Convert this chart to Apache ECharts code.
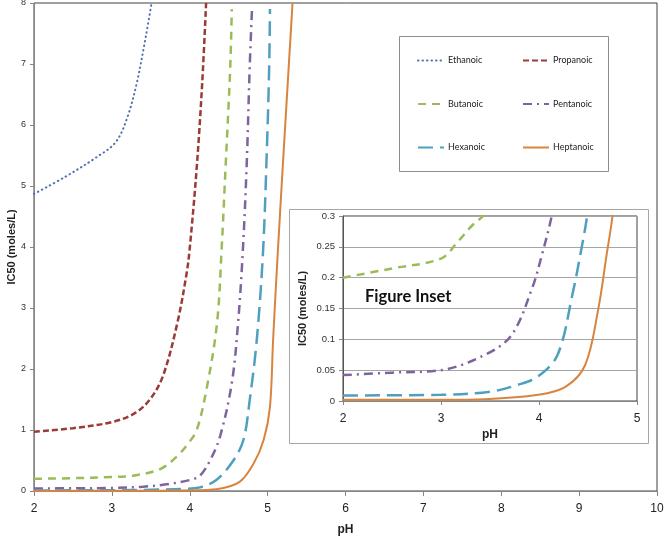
<!DOCTYPE html>
<html>
<head>
<meta charset="utf-8">
<script src="https://cdn.jsdelivr.net/npm/echarts@6/dist/echarts.min.js"></script>
<style>
  html, body { margin: 0; padding: 0; background: #fff; }
  #chart { width: 664px; height: 537px; }
</style>
</head>
<body>
<div id="chart"></div>
<script>
// [pH, IC50] pairs
var ethanoic  = [[2,4.87],[2.4,5.15],[2.8,5.47],[3.05,5.72],[3.2,6.13],[3.32,6.69],[3.42,7.34],[3.51,8]];
var propanoic = [[2,0.97],[2.5,1.03],[3,1.13],[3.3,1.28],[3.5,1.52],[3.66,1.9],[3.84,2.75],[3.96,3.57],[4.0,3.98],[4.09,5.31],[4.16,6.69],[4.21,8]];
var butanoic  = [[2,0.2],[2.5,0.21],[3,0.23],[3.27,0.25],[3.62,0.36],[3.83,0.56],[3.98,0.78],[4.09,1.0],[4.22,1.7],[4.35,2.75],[4.41,3.98],[4.46,5.31],[4.52,6.95],[4.54,7.9]];
var pentanoic = [[2,0.04],[2.5,0.045],[3,0.05],[3.4,0.07],[3.7,0.11],[4,0.18],[4.13,0.25],[4.26,0.5],[4.39,0.9],[4.54,1.77],[4.62,2.75],[4.68,3.9],[4.73,5.31],[4.77,6.95],[4.8,7.92]];
var hexanoic  = [[2,0.01],[3,0.012],[3.5,0.02],[3.9,0.035],[4.13,0.06],[4.34,0.18],[4.56,0.5],[4.69,0.84],[4.77,1.49],[4.86,2.47],[4.94,3.9],[4.99,5.59],[5.02,6.95],[5.03,7.9]];
var heptanoic = [[2,0.002],[3,0.003],[3.5,0.004],[4,0.012],[4.34,0.03],[4.64,0.15],[4.82,0.45],[4.95,0.84],[5.03,1.38],[5.07,2.47],[5.13,3.9],[5.22,5.87],[5.32,8]];

// values
var insetButanoic  = [[2,0.2],[2.5,0.215],[3,0.231],[3.17,0.258],[3.32,0.285],[3.43,0.3],[3.5,0.315]];
var insetPentanoic = [[2,0.042],[2.5,0.046],[3,0.05],[3.45,0.075],[3.72,0.107],[3.93,0.183],[4.03,0.237],[4.13,0.3],[4.2,0.36]];
var insetHexanoic  = [[2,0.009],[3,0.01],[3.5,0.015],[3.78,0.026],[3.99,0.04],[4.19,0.075],[4.34,0.172],[4.44,0.253],[4.49,0.3],[4.55,0.4]];
var insetHeptanoic = [[2,0.002],[3,0.002],[3.45,0.003],[3.99,0.01],[4.27,0.023],[4.47,0.058],[4.6,0.145],[4.69,0.237],[4.75,0.3],[4.8,0.38]];

var legendLeft  = ['Ethanoic', 'Butanoic', 'Hexanoic'];
var legendRight = ['Propanoic', 'Pentanoic', 'Heptanoic'];

var styles = {
  Ethanoic:  { color: '#4F71B0', width: 2,   type: [0.5, 4], cap: 'round' },
  Propanoic: { color: '#9B3B38', width: 2.5, type: [6, 3] },
  Butanoic:  { color: '#9BBB59', width: 2.5, type: [8, 6] },
  Pentanoic: { color: '#7E63A0', width: 2.5, type: [9, 5, 2, 5] },
  Hexanoic:  { color: '#4F9FBF', width: 2.5, type: [15, 7] },
  Heptanoic: { color: '#D9843E', width: 2,   type: 'solid' }
};

function line(name, data, idx) {
  var s = styles[name];
  return {
    name: name,
    type: 'line',
    xAxisIndex: idx,
    yAxisIndex: idx,
    data: data,
    symbol: 'none',
    smooth: 0.35,
    clip: true,
    color: s.color,
    lineStyle: { color: s.color, width: s.width, type: s.type, cap: s.cap || 'butt' },
    z: idx === 1 ? 10 : 2
  };
}

var legendBase = {
  orient: 'vertical', top: 56, padding: 0,
  itemWidth: 26, itemHeight: 10, itemGap: 34.5,
  itemStyle: { opacity: 0, color: 'transparent', borderWidth: 0 },
  textStyle: { fontFamily: 'Lato', fontSize: 9, color: '#222', padding: [0, 0, 0, -1] }
};

var chart = echarts.init(document.getElementById('chart'));
var axisGray = '#868686';
var option = {
  animation: false,
  grid: [
    { left: 34, right: 7, top: 3, bottom: 46, outerBoundsMode: 'none', containLabel: false,
      show: true, borderColor: '#404040', borderWidth: 1 },
    { left: 343, right: 27, top: 216, bottom: 136, outerBoundsMode: 'none', containLabel: false,
      show: true, borderColor: '#404040', borderWidth: 1, z: 5 }
  ],
  xAxis: [
    {
      gridIndex: 0, type: 'value', min: 2, max: 10, interval: 1,
      name: 'pH', nameLocation: 'middle', nameGap: 33, nameMoveOverlap: false,
      nameTextStyle: { fontFamily: 'Liberation Sans', fontWeight: 'bold', fontSize: 12, color: '#222' },
      axisLine: { lineStyle: { color: axisGray } },
      axisTick: { inside: false, length: 5, lineStyle: { color: axisGray } },
      axisLabel: { margin: 12, fontFamily: 'Liberation Sans', fontSize: 12, color: '#222' },
      splitLine: { show: false }
    },
    {
      gridIndex: 1, type: 'value', min: 2, max: 5, interval: 1,
      name: 'pH', nameLocation: 'middle', nameGap: 28, nameMoveOverlap: false,
      nameTextStyle: { fontFamily: 'Liberation Sans', fontWeight: 'bold', fontSize: 12, color: '#222' },
      axisLine: { lineStyle: { color: axisGray } },
      axisTick: { inside: false, length: 4, lineStyle: { color: axisGray } },
      axisLabel: { margin: 12, fontFamily: 'Liberation Sans', fontSize: 12, color: '#222' },
      splitLine: { show: false },
      z: 6
    }
  ],
  yAxis: [
    {
      gridIndex: 0, type: 'value', min: 0, max: 8, interval: 1,
      name: 'IC50 (moles/L)', nameLocation: 'middle', nameGap: 17, nameMoveOverlap: false,
      nameTextStyle: { fontFamily: 'Liberation Sans', fontWeight: 'bold', fontSize: 11, color: '#222' },
      axisLine: { show: true, lineStyle: { color: axisGray } },
      axisTick: { show: true, inside: false, length: 4, lineStyle: { color: axisGray } },
      axisLabel: { margin: 8, fontFamily: 'Liberation Sans', fontSize: 9, color: '#333' },
      splitLine: { show: false }
    },
    {
      gridIndex: 1, type: 'value', min: 0, max: 0.3, interval: 0.05,
      name: 'IC50 (moles/L)', nameLocation: 'middle', nameGap: 35, nameMoveOverlap: false,
      nameTextStyle: { fontFamily: 'Liberation Sans', fontWeight: 'bold', fontSize: 11, color: '#222' },
      axisLine: { show: true, lineStyle: { color: '#555' } },
      axisTick: { show: true, inside: false, length: 4, lineStyle: { color: axisGray } },
      axisLabel: { margin: 8, fontFamily: 'Liberation Sans', fontSize: 9.5, color: '#333' },
      splitLine: { show: true, lineStyle: { color: '#a6a6a6', width: 1 } },
      z: 6
    }
  ],
  legend: [
    Object.assign({ data: legendLeft, left: 417 }, legendBase),
    Object.assign({ data: legendRight, left: 522 }, legendBase)
  ],
  graphic: [
    { type: 'rect', shape: { x: 399.5, y: 36.5, width: 209, height: 135 },
      style: { fill: 'transparent', stroke: '#8c8c8c', lineWidth: 1 }, z: 1 },
    { type: 'rect', shape: { x: 289.5, y: 209.5, width: 359, height: 234 },
      style: { fill: 'transparent', stroke: '#a6a6a6', lineWidth: 1 }, z: 1 },
    { type: 'text', left: 365, top: 288, z: 20,
      style: { text: 'Figure Inset', fontFamily: 'Lato', fontWeight: 'bold', fontSize: 16.5, fill: '#111' } }
  ],
  series: [
    line('Ethanoic', ethanoic, 0),
    line('Propanoic', propanoic, 0),
    line('Butanoic', butanoic, 0),
    line('Pentanoic', pentanoic, 0),
    line('Hexanoic', hexanoic, 0),
    line('Heptanoic', heptanoic, 0),
    line('Butanoic', insetButanoic, 1),
    line('Pentanoic', insetPentanoic, 1),
    line('Hexanoic', insetHexanoic, 1),
    line('Heptanoic', insetHeptanoic, 1)
  ]
};
chart.setOption(option);
</script>
</body>
</html>
